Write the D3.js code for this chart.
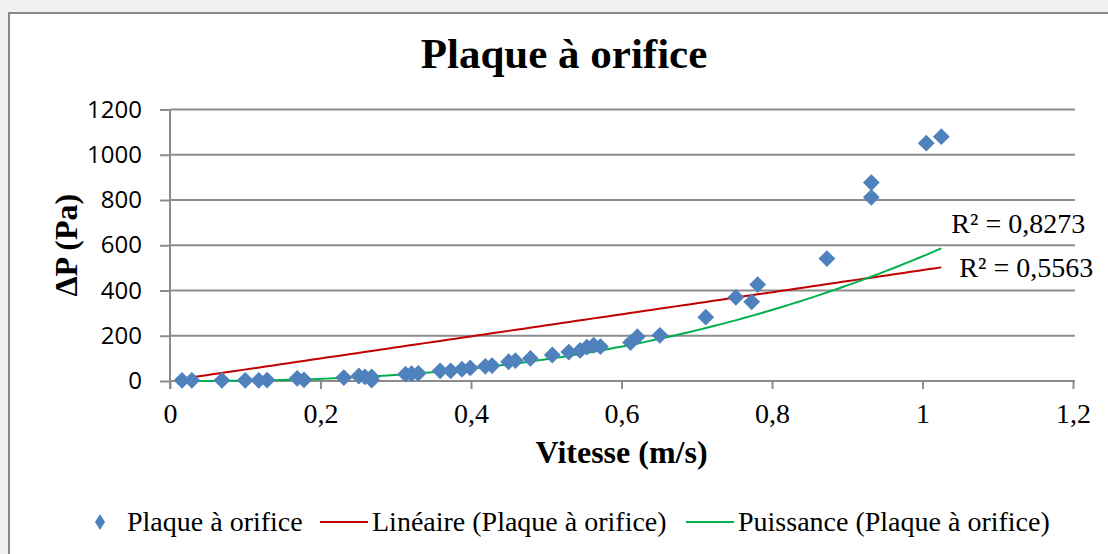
<!DOCTYPE html>
<html><head><meta charset="utf-8">
<script src="https://cdn.jsdelivr.net/npm/d3@7"></script>
<style>
html,body{margin:0;padding:0;background:#f0f0f0;}
svg{display:block;}
</style></head>
<body>
<svg id="chart" width="1108" height="554"></svg>
<script>
// ---- data ----
const vitesse = [0.016,0.029,0.069,0.100,0.118,0.129,0.169,0.178,0.231,0.251,0.259,0.268,0.268,
  0.313,0.321,0.330,0.359,0.373,0.388,0.399,0.419,0.428,0.450,0.459,0.479,0.508,0.530,0.545,
  0.554,0.563,0.572,0.612,0.621,0.651,0.712,0.752,0.773,0.781,0.873,0.932,0.932,1.005,1.025];
const deltaP = [3,3,3,3,3,4,12,5,15,22,18,4,18,
  30,32,34,45,45,52,58,65,68,85,90,100,115,128,135,
  150,158,152,170,196,202,282,370,350,426,541,812,877,1051,1080];
const xTicks = [0,0.2,0.4,0.6,0.8,1.0,1.2];
const yTicks = [0,200,400,600,800,1000,1200];
const linearFit = [488, 2];      // slope, intercept
const powerFit = [551, 2.52];    // coefficient, exponent
const r2Linear = "R² = 0,5563";
const r2Power = "R² = 0,8273";
const titleText = "Plaque à orifice";
const xTitle = "Vitesse (m/s)";
const yTitle = "ΔP (Pa)";
const legendLabels = ["Plaque à orifice","Linéaire (Plaque à orifice)","Puissance (Plaque à orifice)"];

// ---- drawing ----
const svg = d3.select("#chart");
const serif = "'Liberation Serif','Times New Roman',serif";
const sans = "'Open Sans','Noto Sans',sans-serif";
const blue = "#4f81bd", red = "#c00000", green = "#00b050", grid = "#8c8c8c";

svg.append("rect").attr("x",9).attr("y",13).attr("width",1200).attr("height",600)
  .attr("fill","#fff").attr("stroke","#878787").attr("stroke-width",2);

const x = d3.scaleLinear().domain([0,1.2]).range([170,1073]);
const y = d3.scaleLinear().domain([0,1200]).range([381,109.5]);

// gridlines
svg.append("g").selectAll("line").data(yTicks.filter(d=>d>0)).join("line")
  .attr("x1",170).attr("x2",1075).attr("y1",d=>y(d)).attr("y2",d=>y(d))
  .attr("stroke",grid).attr("stroke-width",2);

const fmt = d => String(+d.toFixed(1)).replace(".", ",");

const gx = svg.append("g").attr("transform","translate(0,"+y(0)+")")
  .call(d3.axisBottom(x).tickValues(xTicks).tickFormat(fmt).tickSizeInner(8).tickSizeOuter(0).tickPadding(14));
gx.select(".domain").attr("stroke",grid).attr("stroke-width",2).attr("d","M170,0H1075");
gx.selectAll(".tick line").attr("stroke",grid).attr("stroke-width",2);
gx.selectAll(".tick text").attr("font-family",serif).attr("font-size",28).attr("fill","#000");

const gy = svg.append("g").attr("transform","translate("+x(0)+",0)")
  .call(d3.axisLeft(y).tickValues(yTicks).tickFormat(d=>String(d)).tickSizeInner(10).tickSizeOuter(0).tickPadding(18));
gy.select(".domain").attr("stroke",grid).attr("stroke-width",2).attr("d","M0,"+y(1200)+"V"+(y(0)+8));
gy.selectAll(".tick line").attr("stroke",grid).attr("stroke-width",2);
gy.selectAll(".tick text").attr("font-family",sans).attr("font-size",24).attr("fill","#000");

// trend lines
const xmin = d3.min(vitesse), xmax = d3.max(vitesse);
const samples = d3.range(0,101).map(i => xmin + (xmax-xmin)*i/100);
const line = d3.line().x(d=>x(d[0])).y(d=>y(d[1]));
svg.append("path").datum(samples.map(v=>[v, linearFit[0]*v+linearFit[1]]))
  .attr("d",line).attr("fill","none").attr("stroke",red).attr("stroke-width",2);
svg.append("path").datum(samples.map(v=>[v, powerFit[0]*Math.pow(v,powerFit[1])]))
  .attr("d",line).attr("fill","none").attr("stroke",green).attr("stroke-width",2);

// points
const diamond = d3.symbol().type(d3.symbolDiamond2).size(180);
svg.append("g").selectAll("path").data(vitesse.map((v,i)=>[v,deltaP[i]])).join("path")
  .attr("d",diamond).attr("transform",d=>"translate("+x(d[0])+","+y(d[1])+")")
  .attr("fill",blue);

// R² labels
svg.append("text").attr("x",x(xmax)+10).attr("y",y(powerFit[0]*Math.pow(xmax,powerFit[1]))-15)
  .attr("font-family",serif).attr("font-size",28).text(r2Power);
svg.append("text").attr("x",x(xmax)+18).attr("y",y(linearFit[0]*xmax+linearFit[1])+10)
  .attr("font-family",serif).attr("font-size",28).text(r2Linear);

// titles
svg.append("text").attr("x",564).attr("y",68).attr("text-anchor","middle")
  .attr("font-family",serif).attr("font-weight","bold").attr("font-size",43).text(titleText);
svg.append("text").attr("x",(x(0)+x(1.2))/2).attr("y",463).attr("text-anchor","middle")
  .attr("font-family",serif).attr("font-weight","bold").attr("font-size",32).text(xTitle);
svg.append("text").attr("transform","translate(77,"+((y(0)+y(1200))/2)+") rotate(-90)")
  .attr("text-anchor","middle")
  .attr("font-family",serif).attr("font-weight","bold").attr("font-size",32).text(yTitle);

// legend
const lg = svg.append("g");
const ly = 522;
lg.append("path").attr("d","M0,-8L5,0L0,8L-5,0Z").attr("fill",blue)
  .attr("transform","translate(100,"+ly+")");
lg.append("text").attr("x",127).attr("y",ly+9).attr("font-family",serif).attr("font-size",28).text(legendLabels[0]);
lg.append("line").attr("x1",320).attr("x2",368).attr("y1",ly).attr("y2",ly).attr("stroke",red).attr("stroke-width",2);
lg.append("text").attr("x",372).attr("y",ly+9).attr("font-family",serif).attr("font-size",28).text(legendLabels[1]);
lg.append("line").attr("x1",686).attr("x2",734).attr("y1",ly).attr("y2",ly).attr("stroke",green).attr("stroke-width",2);
lg.append("text").attr("x",738).attr("y",ly+9).attr("font-family",serif).attr("font-size",28).text(legendLabels[2]);
</script>
</body></html>
